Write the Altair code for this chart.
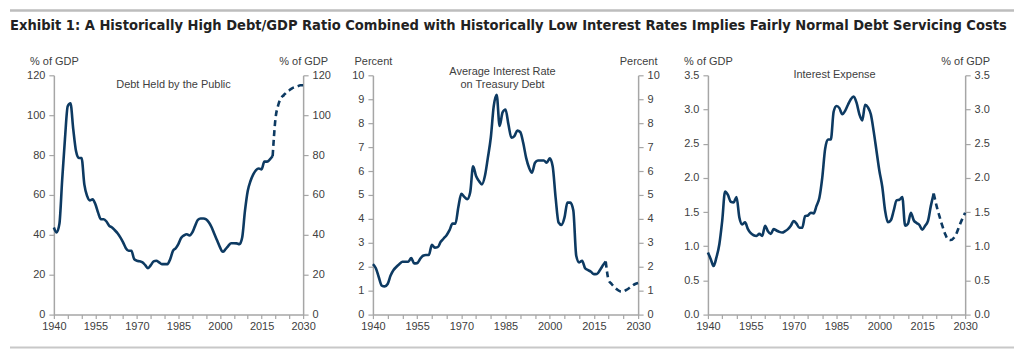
import altair as alt
import pandas as pd

# ---------------- data ----------------
years_hist = list(range(1940, 2020))
years_proj = list(range(2019, 2031))

debt_hist = [
    43.7, 41.2, 45.5, 67.5, 88.0, 104.5, 106.0, 93.0, 82.0, 78.5,
    78.5, 65.3, 59.5, 57.3, 57.8, 55.3, 51.0, 47.8, 47.8, 46.7,
    44.5, 43.7, 42.3, 40.8, 38.7, 36.2, 33.3, 32.0, 32.0, 27.8,
    27.0, 26.7, 26.2, 24.8, 23.3, 24.8, 26.7, 27.0, 26.2, 25.3,
    25.3, 25.3, 27.8, 32.0, 33.3, 35.5, 38.5, 39.7, 40.3, 39.7,
    41.2, 44.5, 47.5, 48.2, 48.2, 47.8, 46.2, 43.7, 40.3, 37.0,
    33.7, 31.5, 32.8, 34.5, 35.8, 35.8, 35.7, 35.3, 38.7, 52.0,
    62.0, 67.0, 70.3, 72.5, 73.3, 72.8, 76.7, 76.7, 77.8, 79.5,
]
debt_proj = [79.5, 98.0, 105.0, 108.5, 110.0, 111.5, 112.5, 113.5, 114.0, 114.5, 115.0, 115.0]

rate_hist = [
    2.11, 1.94, 1.56, 1.21, 1.18, 1.28, 1.63, 1.86, 2.00, 2.11,
    2.21, 2.21, 2.21, 2.36, 2.14, 2.15, 2.32, 2.46, 2.49, 2.49,
    2.92, 2.80, 2.82, 3.04, 3.18, 3.32, 3.53, 3.80, 3.80, 4.50,
    5.05, 4.92, 4.82, 5.10, 6.20, 5.79, 5.58, 5.44, 5.79, 6.55,
    7.39, 8.71, 9.19, 7.88, 8.45, 8.57, 7.94, 7.39, 7.46, 7.69,
    7.63, 7.18, 6.55, 6.14, 5.93, 6.35, 6.44, 6.44, 6.44, 6.35,
    6.53, 6.20, 4.89, 3.85, 3.75, 4.05, 4.68, 4.68, 4.36, 2.46,
    2.18, 2.25, 1.94, 1.86, 1.79, 1.69, 1.70, 1.85, 2.05, 2.22,
]
rate_proj = [2.22, 1.44, 1.28, 1.14, 1.04, 0.97, 0.97, 1.03, 1.11, 1.20, 1.28, 1.32]

intexp_hist = [
    0.91, 0.81, 0.71, 0.84, 1.03, 1.37, 1.80, 1.75, 1.65, 1.64,
    1.72, 1.42, 1.32, 1.35, 1.25, 1.19, 1.16, 1.15, 1.18, 1.15,
    1.30, 1.22, 1.18, 1.25, 1.23, 1.21, 1.20, 1.22, 1.25, 1.30,
    1.37, 1.33, 1.27, 1.27, 1.44, 1.45, 1.49, 1.48, 1.59, 1.71,
    2.00, 2.42, 2.56, 2.56, 2.97, 3.05, 3.02, 2.93, 2.98, 3.07,
    3.15, 3.19, 3.10, 2.93, 2.84, 3.07, 3.03, 2.93, 2.68, 2.39,
    2.10, 1.87, 1.52, 1.35, 1.38, 1.52, 1.67, 1.68, 1.72, 1.30,
    1.33, 1.49, 1.38, 1.34, 1.31, 1.24, 1.30, 1.37, 1.59, 1.77,
]
intexp_proj = [1.77, 1.59, 1.44, 1.30, 1.18, 1.10, 1.09, 1.12, 1.19, 1.30, 1.40, 1.49]

main_title = ("Exhibit 1: A Historically High Debt/GDP Ratio Combined with Historically "
              "Low Interest Rates Implies Fairly Normal Debt Servicing Costs")
panel_titles = ["Debt Held by the Public", "Average Interest Rate\non Treasury Debt", "Interest Expense"]
units = ["% of GDP", "Percent", "% of GDP"]
x_ticks = list(range(1940, 2031, 5))

LINE = "#0d3a62"
TXT = "#404040"
FONT = "Liberation Sans"
TITLE_FONT = "DejaVu Sans Condensed"

H = 240


def panel(hist, proj, ymax, yvals, yfmt, unit, width, label, lx, ly, extra=None):
    dh = pd.DataFrame({"year": years_hist, "value": hist})
    dp = pd.DataFrame({"year": years_proj, "value": proj})
    xaxis = alt.Axis(values=x_ticks, format="d", grid=False, tickSize=4, labelPadding=2,
                     labelFlush=False, labelOverlap=False, title=None,
                     labelExpr="(datum.value - 1940) % 15 == 0 ? datum.label : ''")
    xenc = alt.X("year:Q", scale=alt.Scale(domain=[1940, 2030], nice=False, zero=False), axis=xaxis)
    yscale = alt.Scale(domain=[0, ymax], nice=False)

    def yaxis(orient):
        return alt.Axis(orient=orient, values=yvals, format=yfmt, grid=False, tickSize=5,
                        labelPadding=4, title=unit, titleAngle=0, titleAlign="center",
                        titleBaseline="middle", titleX=0, titleY=-14, labelOverlap=False)

    solid = alt.Chart(dh).mark_line(color=LINE, strokeWidth=2.6, interpolate="monotone").encode(
        x=xenc, y=alt.Y("value:Q", scale=yscale, axis=yaxis("left")))
    dashed = alt.Chart(dp).mark_line(color=LINE, strokeWidth=2.6, strokeDash=[6, 4],
                                     interpolate="monotone").encode(
        x=xenc, y=alt.Y("value:Q", scale=yscale, axis=yaxis("right")))
    lab = alt.Chart(pd.DataFrame({"t": [label]})).mark_text(
        font=FONT, fontSize=11, color=TXT, align="center", baseline="middle",
        lineBreak="\n", lineHeight=13).encode(text="t:N", x=alt.value(lx), y=alt.value(ly))
    layers = [solid, dashed, lab] + (extra or [])
    return alt.layer(*layers).resolve_axis(y="independent").properties(width=width, height=H)


one = pd.DataFrame({"t": [main_title]})
title_txt = alt.Chart(one).mark_text(
    font=TITLE_FONT, fontSize=14.6, fontWeight="bold", color="#222222",
    align="left", baseline="middle").encode(text="t:N", x=alt.value(-44), y=alt.value(-49))
rule_top = alt.Chart(one).mark_rule(color="#bdbdbd", strokeWidth=2.5).encode(
    x=alt.value(-44), x2=alt.value(963), y=alt.value(-65))
rule_bot = alt.Chart(one).mark_rule(color="#c8c8c8", strokeWidth=2).encode(
    x=alt.value(-44), x2=alt.value(963), y=alt.value(273))

p1 = panel(debt_hist, debt_proj, 120, list(range(0, 121, 20)), "d", units[0], 250,
           panel_titles[0], 120, 10, [title_txt, rule_top, rule_bot])
p2 = panel(rate_hist, rate_proj, 10, list(range(0, 11)), "d", units[1], 266,
           panel_titles[1], 130, -3)
p3 = panel(intexp_hist, intexp_proj, 3.5, [i * 0.5 for i in range(8)], ".1f", units[2], 258,
           panel_titles[2], 127, 0)

chart = alt.hconcat(p1, p2, p3, spacing=70, bounds="flush").properties(padding=0).configure_view(
    stroke=None
).configure_axis(
    labelFont=FONT, titleFont=FONT, labelFontSize=11, titleFontSize=11,
    labelColor=TXT, titleColor=TXT, titleFontWeight="normal",
    domainColor="#a6a6a6", tickColor="#a6a6a6", domainWidth=1.5, tickWidth=1.2
)

chart.save("out.html", embed_options={"renderer": "svg", "actions": False})
